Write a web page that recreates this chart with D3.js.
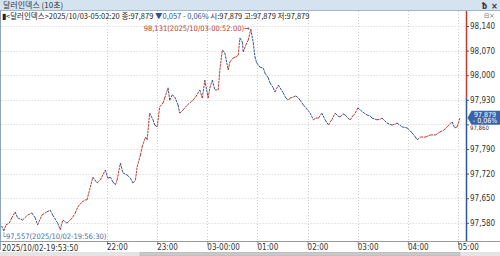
<!DOCTYPE html>
<html><head><meta charset="utf-8">
<script src="https://cdn.jsdelivr.net/npm/d3@7"></script>
<style>body{margin:0;background:#fff;overflow:hidden}svg{display:block}</style>
</head><body>
<svg id="c" width="500" height="256"></svg>
<script>
const title = "달러인덱스 (10초)";
const times = ["19:53:50","19:56:30","19:59","20:03","20:06","20:10","20:13","20:19","20:25","20:30","20:34","20:37","20:42","20:48","20:52","20:55","21:01","21:04","21:07","21:12","21:16","21:19","21:22","21:25","21:30","21:34","21:36","21:43","21:48","21:52","21:58","22:01","22:04","22:07","22:10","22:12","22:16","22:19","22:24","22:28","22:31","22:34","22:36","22:40","22:42","22:46","22:48","22:51","22:55","22:57","23:00","23:03","23:07","23:09","23:13","23:15","23:18","23:21","23:25","23:27","23:31","23:36","23:39","23:43","23:46","23:51","23:54","23:57","00:01","00:03","00:06","00:09","00:13","00:15","00:18","00:21","00:25","00:27","00:31","00:34","00:37","00:39","00:42","00:43","00:46","00:49","00:52","00:55","00:57","00:59","01:03","01:07","01:09","01:13","01:15","01:19","01:21","01:25","01:27","01:31","01:34","01:37","01:39","01:43","01:46","01:49","01:51","01:55","01:58","02:03","02:07","02:10","02:13","02:17","02:21","02:25","02:27","02:29","02:33","02:36","02:39","02:42","02:45","02:48","02:51","02:54","02:57","03:00","03:03","03:06","03:11","03:15","03:17","03:23","03:27","03:29","03:35","03:41","03:45","03:47","03:53","03:59","04:03","04:05","04:09","04:11","04:15","04:21","04:27","04:33","04:38","04:43","04:47","04:50","04:53","04:56","04:59","05:02:20"];
const values = [97.571,97.557,97.574,97.579,97.594,97.611,97.594,97.588,97.602,97.608,97.594,97.574,97.602,97.611,97.616,97.602,97.579,97.560,97.588,97.579,97.588,97.596,97.608,97.625,97.639,97.645,97.645,97.710,97.693,97.702,97.730,97.707,97.710,97.696,97.688,97.702,97.750,97.722,97.716,97.707,97.693,97.702,97.739,97.773,97.796,97.824,97.816,97.892,97.873,97.858,97.853,97.910,97.921,97.935,97.964,97.929,97.944,97.938,97.915,97.892,97.901,97.915,97.921,97.929,97.938,97.958,97.935,97.986,97.935,97.964,97.986,97.958,97.958,98.015,98.072,98.063,98.015,98.038,98.049,98.052,98.057,98.106,98.094,98.066,98.086,98.100,98.131,98.092,98.052,98.035,98.023,98.020,98.006,97.992,97.978,97.964,97.952,97.972,97.964,97.949,97.935,97.929,97.935,97.938,97.941,97.935,97.929,97.915,97.907,97.892,97.873,97.878,97.878,97.892,97.873,97.858,97.867,97.873,97.892,97.884,97.881,97.890,97.887,97.878,97.873,97.884,97.892,97.907,97.901,97.895,97.887,97.884,97.878,97.873,97.875,97.878,97.864,97.858,97.861,97.864,97.853,97.850,97.841,97.836,97.824,97.816,97.824,97.824,97.830,97.830,97.838,97.844,97.853,97.861,97.867,97.850,97.853,97.879];
const yTicks = [97.58,97.65,97.72,97.79,97.86,97.93,98.00,98.07,98.14];
const xTickTimes = ["22:00","23:00","00:00","01:00","02:00","03:00","04:00","05:00"];
const xTickLabels = ["22:00","23:00","03-00:00","01:00","02:00","03:00","04:00","05:00"];
const startLabel = "2025/10/02-19:53:50";
const infoName = "<달러인덱스>", infoTime = "2025/10/03-05:02:20";
const prevClose = 97.936, lastPrice = 97.879, change = -0.057, pctChange = -0.06;
const maxLabel = "98,131(2025/10/03-00:52:00)", minLabel = "97,557(2025/10/02-19:56:30)";

const parse = s => {
  const h = +s.slice(0,2);
  const day = h >= 12 ? "2025-10-02" : "2025-10-03";
  const full = s.length === 5 ? s + ":00" : s;
  return d3.timeParse("%Y-%m-%d %H:%M:%S")(day + " " + full);
};
const data = times.map((t,i)=>({t:parse(t), v:values[i]}));
const loc = d3.formatLocale({decimal:",", thousands:".", grouping:[3], currency:["",""]});
const f3 = loc.format(".3f"), f2 = loc.format(".2f");

const RED = "#c0392b", BLUE = "#2f5597", GRID = "#cfcfcf";
const FONT = "'Liberation Sans Narrow','Arial Narrow','DejaVu Sans Condensed',sans-serif";
const KFONT = "'Noto Sans CJK KR','Liberation Sans Narrow',sans-serif";
const svg = d3.select("#c");

const pL = 1.6, pR = 460, pT = 11, pB = 241, axisX = 466.5;
const x = d3.scaleTime().domain([data[0].t, data[data.length-1].t]).range([pL, pR]);
const y = d3.scaleLinear().domain([97.5282, 98.1827]).range([pB, pT]);

// title bar
svg.append("rect").attr("x",0).attr("y",0).attr("width",500).attr("height",11).attr("fill","#d5e3f0");
svg.append("line").attr("x1",0).attr("x2",500).attr("y1",10.5).attr("y2",10.5).attr("stroke","#9fb6cf");
svg.append("text").attr("x",3).attr("y",8).attr("font-family",KFONT).attr("font-size",8).attr("fill","#333").text(title);
svg.append("text").attr("x",482).attr("y",8.5).attr("font-family",FONT).attr("font-size",8).attr("font-weight","bold").attr("fill","#333").text("ƀ");
svg.append("text").attr("x",491).attr("y",8.5).attr("font-family",FONT).attr("font-size",9).attr("font-weight","bold").attr("fill","#333").text("×");
// left border
svg.append("line").attr("x1",0.5).attr("x2",0.5).attr("y1",11).attr("y2",250).attr("stroke","#8ea3bd");

// grid
const g = svg.append("g");
g.selectAll("line.h").data(yTicks).join("line")
  .attr("x1",pL).attr("x2",axisX).attr("y1",d=>Math.round(y(d))+0.5).attr("y2",d=>Math.round(y(d))+0.5)
  .attr("stroke",GRID).attr("stroke-dasharray","1,2");
const xTicks = xTickTimes.map(parse);
g.selectAll("line.v").data(xTicks).join("line")
  .attr("x1",d=>Math.round(x(d))+0.5).attr("x2",d=>Math.round(x(d))+0.5).attr("y1",pT).attr("y2",pB)
  .attr("stroke",GRID).attr("stroke-dasharray","1,2");

// info line
const info = svg.append("text").attr("x",2).attr("y",18.6).attr("font-family",KFONT).attr("font-size",7.5).attr("fill","#222");
info.append("tspan").text("▮"+infoName+infoTime+" 종:"+f3(lastPrice)+" ");
info.append("tspan").attr("fill",BLUE).text("▼"+f3(Math.abs(change))+"  - "+f2(Math.abs(pctChange))+"% ");
info.append("tspan").text(" 시:"+f3(lastPrice)+" 고:"+f3(lastPrice)+" 저:"+f3(lastPrice));
svg.append("text").attr("x",484).attr("y",18).attr("font-family",FONT).attr("font-size",7).attr("fill","#777").text("⊟×");

// price line, colored by direction
const segs = d3.pairs(data);
svg.append("g").selectAll("line").data(segs).join("line")
  .attr("x1",d=>x(d[0].t)).attr("y1",d=>y(d[0].v)).attr("x2",d=>x(d[1].t)).attr("y2",d=>y(d[1].v))
  .attr("stroke",d=>d[1].v>=d[0].v?RED:BLUE).attr("stroke-width",1).attr("stroke-dasharray","2.5,0.8");

// right axis: red above prev close, blue below
svg.append("line").attr("x1",axisX).attr("x2",axisX).attr("y1",pT).attr("y2",y(prevClose)).attr("stroke",RED).attr("stroke-width",1.5);
svg.append("line").attr("x1",axisX).attr("x2",axisX).attr("y1",y(prevClose)).attr("y2",pB).attr("stroke",BLUE).attr("stroke-width",1.5);
const yAxis = d3.axisRight(y).tickValues(yTicks).tickSize(2).tickFormat(f3);
const ya = svg.append("g").attr("transform",`translate(${axisX+0.5},0)`).call(yAxis);
ya.select(".domain").remove();
ya.selectAll("line").attr("stroke","#555");
ya.selectAll("text").attr("x",3).attr("font-family",FONT).attr("font-size",8).attr("fill","#333")
  .attr("dy",d=>d===97.86?"0.9em":"0.32em").attr("font-size",d=>d===97.86?6:8);

// current price box
const py = y(lastPrice);
svg.append("path").attr("d",`M${axisX+1},${py} L${axisX+5},${py-7} L500,${py-7} L500,${py+7} L${axisX+5},${py+7} Z`).attr("fill","#3a62a7");
svg.append("text").attr("x",485).attr("y",py-1).attr("text-anchor","middle").attr("font-family",FONT).attr("font-size",7).attr("fill","#fff").text(f3(lastPrice));
svg.append("text").attr("x",485).attr("y",py+5.5).attr("text-anchor","middle").attr("font-family",FONT).attr("font-size",7).attr("fill","#fff").text("- "+f2(Math.abs(pctChange))+"%");

// bottom axis
svg.append("line").attr("x1",0).attr("x2",500).attr("y1",pB+0.5).attr("y2",pB+0.5).attr("stroke","#9a9a9a");
const xAxis = d3.axisBottom(x).tickValues(xTicks).tickSize(4).tickFormat((d,i)=>xTickLabels[i]);
const xa = svg.append("g").attr("transform",`translate(0,${pB})`).call(xAxis);
xa.select(".domain").remove();
xa.selectAll("line").attr("stroke","#888");
xa.selectAll("text").attr("text-anchor","start").attr("dx",-0.5).attr("y",3).attr("font-family",FONT).attr("font-size",8).attr("fill","#333");
svg.append("text").attr("x",2).attr("y",251).attr("font-family",FONT).attr("font-size",8).attr("fill","#333").text(startLabel);

// scrollbar strip
svg.append("rect").attr("x",0).attr("y",252).attr("width",500).attr("height",4).attr("fill","#e4e4e4");
svg.append("rect").attr("x",140).attr("y",252.5).attr("width",320).attr("height",3.5).attr("fill","#c9c9c9").attr("stroke","#aaa").attr("stroke-width",0.5);

// max / min annotations
const maxD = data.reduce((a,b)=>b.v>a.v?b:a), minD = data.reduce((a,b)=>b.v<a.v?b:a);
svg.append("text").attr("x",x(maxD.t)-1).attr("y",y(maxD.v)+2).attr("text-anchor","end").attr("font-family",FONT).attr("font-size",7.5).attr("fill",RED).text(maxLabel+"→");
svg.append("text").attr("x",x(minD.t)-2).attr("y",y(minD.v)+8).attr("font-family",FONT).attr("font-size",7.5).attr("fill","#4a6fa5").text("└"+minLabel);
</script>
</body></html>
